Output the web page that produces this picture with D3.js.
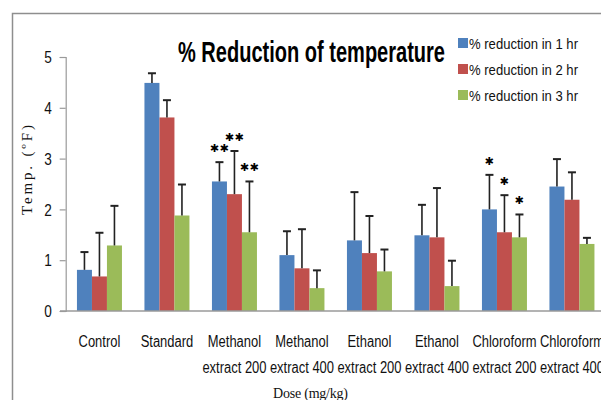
<!DOCTYPE html>
<html><head><meta charset="utf-8">
<script src="https://cdn.jsdelivr.net/npm/d3@7"></script>
<style>body{margin:0;background:#fff}svg{display:block}</style>
</head><body>
<script>
const categories = [["Control"],["Standard"],["Methanol","extract 200"],["Methanol","extract 400"],["Ethanol","extract 200"],["Ethanol","extract 400"],["Chloroform","extract 200"],["Chloroform","extract 400"]];
const seriesNames = ["% reduction in 1 hr","% reduction in 2 hr","% reduction in 3 hr"];
const hr1 = [0.81, 4.49, 2.55, 1.10, 1.39, 1.49, 2.00, 2.45];
const hr2 = [0.68, 3.81, 2.30, 0.84, 1.14, 1.45, 1.55, 2.19];
const hr3 = [1.29, 1.88, 1.55, 0.45, 0.78, 0.49, 1.45, 1.32];
const err1 = [0.35, 0.19, 0.38, 0.47, 0.95, 0.60, 0.68, 0.54];
const err2 = [0.86, 0.34, 0.85, 0.77, 0.73, 0.97, 0.73, 0.54];
const err3 = [0.78, 0.61, 1.00, 0.35, 0.43, 0.50, 0.45, 0.12];
const sig1 = ["","","**","","","","*",""];
const sig2 = ["","","**","","","","*",""];
const sig3 = ["","","**","","","","*",""];
const yTicks = [0,1,2,3,4,5];
const title = "% Reduction of temperature";
const yTitle = "Temp. (ºF)";
const xTitle = "Dose (mg/kg)";
const colors = ["#4F81BD","#C0504D","#9BBB59"];

const values = [hr1, hr2, hr3], errs = [err1, err2, err3], sigs = [sig1, sig2, sig3];
const W = 601, H = 400;
const svg = d3.select("body").append("svg").attr("width", W).attr("height", H);
const font = "'Liberation Sans',Arial,sans-serif";
function narrow(sel, f) {
  sel.each(function(){ const L = this.getComputedTextLength(); d3.select(this).attr("textLength", L*f).attr("lengthAdjust","spacingAndGlyphs"); });
}

// outer frame
svg.append("path").attr("d", `M12.5,${H} V13.5 H${W}`).attr("fill","none").attr("stroke","#8e8e8e").attr("stroke-width",1.5);

const x0 = d3.scaleBand().domain(d3.range(categories.length)).range([65.7, 605.7]).paddingInner(1/3).paddingOuter(1/6);
const x1 = d3.scaleBand().domain(d3.range(3)).range([0, x0.bandwidth()]);
const y = d3.scaleLinear().domain([0,5]).range([311, 57]);

// y axis
const yAxis = d3.axisLeft(y).tickValues(yTicks).tickSize(6).tickFormat(d3.format("d"));
const ya = svg.append("g").attr("transform","translate(65.7,0)").call(yAxis);
ya.select(".domain").attr("stroke","#9a9a9a").attr("stroke-width",1.2);
ya.selectAll(".tick line").attr("stroke","#9a9a9a").attr("stroke-width",1.2);
ya.selectAll(".tick text").attr("x",-14).attr("dy","0.36em").attr("font-family",font).attr("font-size",16).attr("fill","#111");
narrow(ya.selectAll(".tick text"), 0.85);

// bars
const g = svg.append("g");
categories.forEach((c, i) => {
  const grp = g.append("g").attr("transform", `translate(${x0(i)},0)`);
  values.forEach((vals, s) => {
    const v = vals[i], e = errs[s][i];
    const bx = x1(s), bw = x1.bandwidth();
    grp.append("rect").attr("x", bx).attr("y", y(v)).attr("width", bw).attr("height", y(0) - y(v))
      .attr("fill", colors[s]);
    const cx = bx + bw/2;
    grp.append("line").attr("x1", cx).attr("x2", cx).attr("y1", y(v)).attr("y2", y(v+e)).attr("stroke","#222").attr("stroke-width",1.6);
    grp.append("line").attr("x1", cx-4).attr("x2", cx+4).attr("y1", y(v+e)).attr("y2", y(v+e)).attr("stroke","#222").attr("stroke-width",2);
    const sg = sigs[s][i];
    if (sg) {
      grp.append("text").attr("x", cx).attr("y", y(v+e) - 14).attr("dy","0.35em")
        .attr("text-anchor","middle").attr("font-family","'DejaVu Sans',sans-serif").attr("font-size",11)
        .attr("letter-spacing", 0.5).attr("fill","#000").text(sg.replace(/\*/g, "\u2731"));
    }
  });
});

// x axis line
svg.append("line").attr("x1",60).attr("x2",W).attr("y1",311).attr("y2",311).attr("stroke","#9a9a9a").attr("stroke-width",1.6);

// category labels
const cl = svg.append("g");
categories.forEach((c, i) => {
  const cx = x0(i) + x0.bandwidth()/2;
  c.forEach((line, k) => {
    cl.append("text").attr("x", cx).attr("y", 347 + k*26).attr("text-anchor","middle")
      .attr("font-family",font).attr("font-size",16).attr("fill","#111").text(line);
  });
});
narrow(cl.selectAll("text"), 0.81);

// titles
svg.append("text").attr("x", 311.5).attr("y", 62).attr("text-anchor","middle")
  .attr("font-family",font).attr("font-weight","bold").attr("font-size",29)
  .attr("textLength",267).attr("lengthAdjust","spacingAndGlyphs").attr("fill","#000").text(title);
svg.append("text").attr("transform","translate(32,170) rotate(-90)").attr("text-anchor","middle")
  .attr("font-family","'Liberation Serif','Times New Roman',serif").attr("font-size",15)
  .attr("textLength",90).attr("fill","#111").text(yTitle);
svg.append("text").attr("x", 310.5).attr("y", 397.5).attr("text-anchor","middle")
  .attr("font-family","'Liberation Serif','Times New Roman',serif").attr("font-size",14)
  .attr("textLength",75).attr("fill","#111").text(xTitle);

// legend
const lg = svg.append("g");
seriesNames.forEach((n, s) => {
  const yy = 43 + s*26;
  lg.append("rect").attr("x",458).attr("y",yy-5).attr("width",10).attr("height",10).attr("fill",colors[s]);
  lg.append("text").attr("x",469).attr("y",yy+5.5).attr("font-family",font).attr("font-size",15)
    .attr("textLength",109).attr("lengthAdjust","spacingAndGlyphs").attr("fill","#111").text(n);
});
</script>
</body></html>
